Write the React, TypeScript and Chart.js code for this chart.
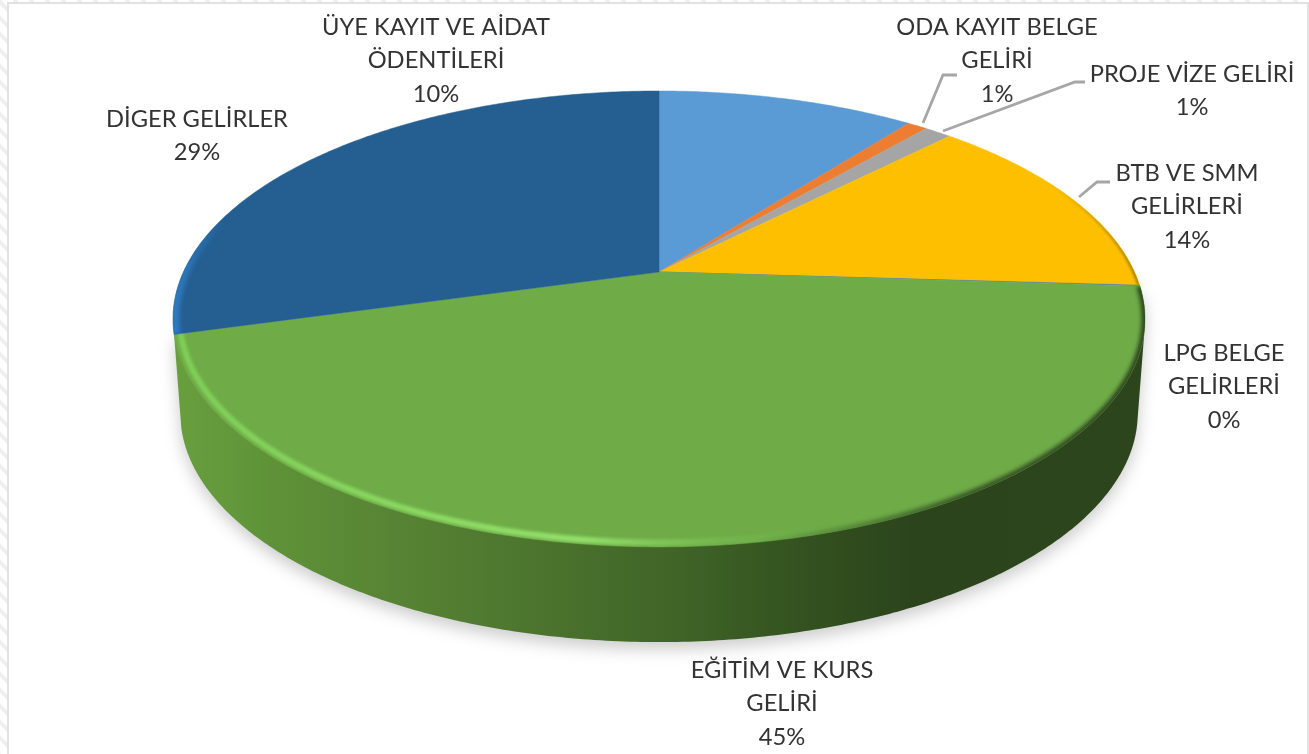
import React, { useEffect, useRef } from "react";
import { Chart, registerables } from "chart.js";

Chart.register(...registerables);

const categories = [
  "ÜYE KAYIT VE AİDAT ÖDENTİLERİ",
  "ODA KAYIT BELGE GELİRİ",
  "PROJE VİZE GELİRİ",
  "BTB VE SMM GELİRLERİ",
  "LPG BELGE GELİRLERİ",
  "EĞİTİM VE KURS GELİRİ",
  "DİGER GELİRLER",
];
const shares = [10.45, 0.8, 1.1, 13.6, 0.05, 44.65, 29.35];
const sliceColors = ["#5b9bd5", "#ed7d31", "#a5a5a5", "#fdbf00", "#4472c4", "#6fac48", "#255e91"];

const labelLines = [
  ["ÜYE KAYIT VE AİDAT", "ÖDENTİLERİ"],
  ["ODA KAYIT BELGE", "GELİRİ"],
  ["PROJE VİZE GELİRİ"],
  ["BTB VE SMM", "GELİRLERİ"],
  ["LPG BELGE", "GELİRLERİ"],
  ["EĞİTİM VE KURS", "GELİRİ"],
  ["DİGER GELİRLER"],
];
// layout only: centre x / first line y of each label
const labelAnchors = [
  [436, 27],
  [997, 27],
  [1192, 74],
  [1187, 173],
  [1224, 353],
  [782, 670],
  [197, 119],
];
const leaderLines: (number[][] | null)[] = [
  null,
  [[923, 123], [943, 75], [957, 75]],
  [[943, 131], [1075, 82], [1085, 82]],
  [[1079, 197], [1097, 182], [1110, 182]],
  null,
  null,
  null,
];

const WALL_INDEX = 5;
const PERSP = -0.206;
const X_SCALE = 475.6 / 272;
const Y_SCALE = 218.3 / 272;
const ELL_CY_OFFSET = 47;
const DEPTH = 94;

type Pt = [number, number];

function hull(points: Pt[]): Pt[] {
  const p = [...points].sort((a, b) => a[0] - b[0] || a[1] - b[1]);
  const cross = (o: Pt, a: Pt, b: Pt) => (a[0] - o[0]) * (b[1] - o[1]) - (a[1] - o[1]) * (b[0] - o[0]);
  const lower: Pt[] = [];
  for (const q of p) {
    while (lower.length >= 2 && cross(lower[lower.length - 2], lower[lower.length - 1], q) <= 0) lower.pop();
    lower.push(q);
  }
  const upper: Pt[] = [];
  for (let i = p.length - 1; i >= 0; i--) {
    const q = p[i];
    while (upper.length >= 2 && cross(upper[upper.length - 2], upper[upper.length - 1], q) <= 0) upper.pop();
    upper.push(q);
  }
  return lower.slice(0, -1).concat(upper.slice(0, -1));
}

const pie3d = {
  id: "pie3d",
  beforeDraw(chart: any) {
    const ctx = chart.ctx as CanvasRenderingContext2D;
    const W = chart.width;
    const H = chart.height;
    ctx.save();
    ctx.fillStyle = "#ffffff";
    ctx.fillRect(0, 0, W, H);
    ctx.beginPath();
    ctx.rect(0, 0, 7, H);
    ctx.rect(0, 0, W, 2);
    ctx.clip();
    ctx.strokeStyle = "#efefef";
    ctx.lineWidth = 4;
    for (let k = -H; k < W + H; k += 16) {
      ctx.beginPath();
      ctx.moveTo(k, 0);
      ctx.lineTo(k + H, H);
      ctx.stroke();
    }
    ctx.restore();
    ctx.save();
    ctx.fillStyle = "#e2e2e2";
    ctx.fillRect(7, 2, 2, H - 2);
    ctx.fillRect(7, 2, W - 7, 2);
    ctx.fillRect(W - 2, 2, 2, H - 2);
    ctx.restore();
  },
  beforeDatasetDraw() {
    return false;
  },
  afterDatasetsDraw(chart: any) {
    const ctx = chart.ctx as CanvasRenderingContext2D;
    const arcs = chart.getDatasetMeta(0).data as any[];
    const R = arcs[0].outerRadius;
    const cx = arcs[0].x;
    const cy = arcs[0].y;
    const top = (a: number, r = 1): Pt => {
      const u = r * Math.cos(a);
      const v = r * Math.sin(a);
      const d = 1 + PERSP * v;
      return [cx + (X_SCALE * R * u) / d, cy + (Y_SCALE * R * v) / d];
    };
    const low = (a: number): Pt => {
      const [x, y] = top(a);
      return [cx + (x - cx) * 0.985, cy + ELL_CY_OFFSET + (y - cy - ELL_CY_OFFSET) * 1.005 + DEPTH];
    };
    const sample = (s: number, e: number, f: (a: number) => Pt) => {
      const out: Pt[] = [];
      const n = Math.max(2, Math.ceil((e - s) / 0.01));
      for (let i = 0; i <= n; i++) out.push(f(s + ((e - s) * i) / n));
      return out;
    };
    const trace = (pts: Pt[], close = false) => {
      ctx.beginPath();
      pts.forEach((p, i) => (i ? ctx.lineTo(p[0], p[1]) : ctx.moveTo(p[0], p[1])));
      if (close) ctx.closePath();
    };

    // wall outline of the one slice whose side is visible
    const w = arcs[WALL_INDEX];
    const wallPts = hull([...sample(w.startAngle, w.endAngle, (a) => top(a)), ...sample(w.startAngle, w.endAngle, low)]);

    ctx.save();
    (ctx as any).filter = "blur(8px)";
    ctx.fillStyle = "rgba(0,0,0,0.2)";
    ctx.translate(0, 7);
    trace(wallPts, true);
    ctx.fill();
    ctx.restore();

    const wallGrad = ctx.createLinearGradient(175, 0, 1145, 0);
    wallGrad.addColorStop(0, "#689f3e");
    wallGrad.addColorStop(0.1, "#5f9238");
    wallGrad.addColorStop(0.3, "#527c31");
    wallGrad.addColorStop(0.52, "#3f6427");
    wallGrad.addColorStop(0.64, "#345320");
    wallGrad.addColorStop(0.76, "#2c441c");
    wallGrad.addColorStop(1, "#2d451d");
    ctx.save();
    trace(wallPts, true);
    ctx.fillStyle = wallGrad;
    ctx.fill();
    ctx.restore();

    // top face
    arcs.forEach((arc, i) => {
      const pts = [[cx, cy] as Pt, ...sample(arc.startAngle, arc.endAngle, (a) => top(a))];
      trace(pts, true);
      ctx.fillStyle = sliceColors[i];
      ctx.fill();
      ctx.strokeStyle = sliceColors[i];
      ctx.lineWidth = 0.5;
      ctx.stroke();
    });

    // bevel along the rims
    const rim = (idx: number, r: number, lw: number, blur: number, style: string | CanvasGradient) => {
      const arc = arcs[idx];
      ctx.save();
      trace([[cx, cy] as Pt, ...sample(arc.startAngle, arc.endAngle, (a) => top(a))], true);
      ctx.clip();
      (ctx as any).filter = `blur(${blur}px)`;
      trace(sample(arc.startAngle, arc.endAngle, (a) => top(a, r)));
      ctx.strokeStyle = style;
      ctx.lineWidth = lw;
      ctx.stroke();
      ctx.restore();
    };
    const greenLight = ctx.createLinearGradient(175, 0, 1145, 0);
    greenLight.addColorStop(0, "rgba(128,210,88,0.9)");
    greenLight.addColorStop(0.42, "rgba(150,226,110,0.95)");
    greenLight.addColorStop(0.58, "rgba(130,205,90,0.25)");
    greenLight.addColorStop(0.68, "rgba(130,205,90,0)");
    greenLight.addColorStop(1, "rgba(130,205,90,0)");
    rim(WALL_INDEX, 0.987, 6, 1.5, greenLight);
    const greenDark = ctx.createLinearGradient(175, 0, 1145, 0);
    greenDark.addColorStop(0, "rgba(40,60,28,0)");
    greenDark.addColorStop(0.6, "rgba(40,60,28,0)");
    greenDark.addColorStop(0.82, "rgba(40,60,28,0.8)");
    greenDark.addColorStop(1, "rgba(40,60,28,0.95)");
    rim(WALL_INDEX, 1.0, 7, 2, greenDark);
    const blueRim = ctx.createLinearGradient(172, 0, 225, 0);
    blueRim.addColorStop(0, "rgba(46,125,196,1)");
    blueRim.addColorStop(1, "rgba(46,125,196,0)");
    rim(6, 0.995, 8, 2, blueRim);
    const yellowRim = ctx.createLinearGradient(1050, 0, 1145, 0);
    yellowRim.addColorStop(0, "rgba(170,130,0,0)");
    yellowRim.addColorStop(1, "rgba(150,115,10,0.9)");
    rim(3, 0.998, 3, 1, yellowRim);

    // leader lines
    ctx.save();
    (ctx as any).filter = "blur(0.4px)";
    ctx.strokeStyle = "#a6a6a6";
    ctx.lineWidth = 2.8;
    leaderLines.forEach((l) => {
      if (!l) return;
      trace(l as Pt[]);
      ctx.stroke();
    });
    ctx.restore();

    // labels
    const total = shares.reduce((a, b) => a + b, 0);
    ctx.save();
    (ctx as any).filter = "blur(0.45px)";
    ctx.font = '23.7px Lato, "Noto Sans", sans-serif';
    ctx.fillStyle = "#333333";
    ctx.textAlign = "center";
    ctx.textBaseline = "middle";
    categories.forEach((_, i) => {
      const [x, y] = labelAnchors[i];
      const lines = [...labelLines[i], `${Math.round((shares[i] / total) * 100)}%`];
      lines.forEach((t, k) => ctx.fillText(t, x, y + k * 33.7));
    });
    ctx.restore();
  },
};

export default function App() {
  const ref = useRef<HTMLCanvasElement>(null);
  useEffect(() => {
    document.body.style.margin = "0";
    document.body.style.background = "#ffffff";
    const chart = new Chart(ref.current!, {
      type: "pie",
      data: {
        labels: categories,
        datasets: [{ data: shares, backgroundColor: sliceColors, borderWidth: 0 }],
      },
      options: {
        responsive: false,
        animation: false,
        layout: { padding: { left: 9, bottom: 210 } },
        plugins: { legend: { display: false }, tooltip: { enabled: false } },
      },
      plugins: [pie3d],
    } as any);
    return () => chart.destroy();
  }, []);
  return <canvas ref={ref} width={1309} height={754} style={{ display: "block" }} />;
}
